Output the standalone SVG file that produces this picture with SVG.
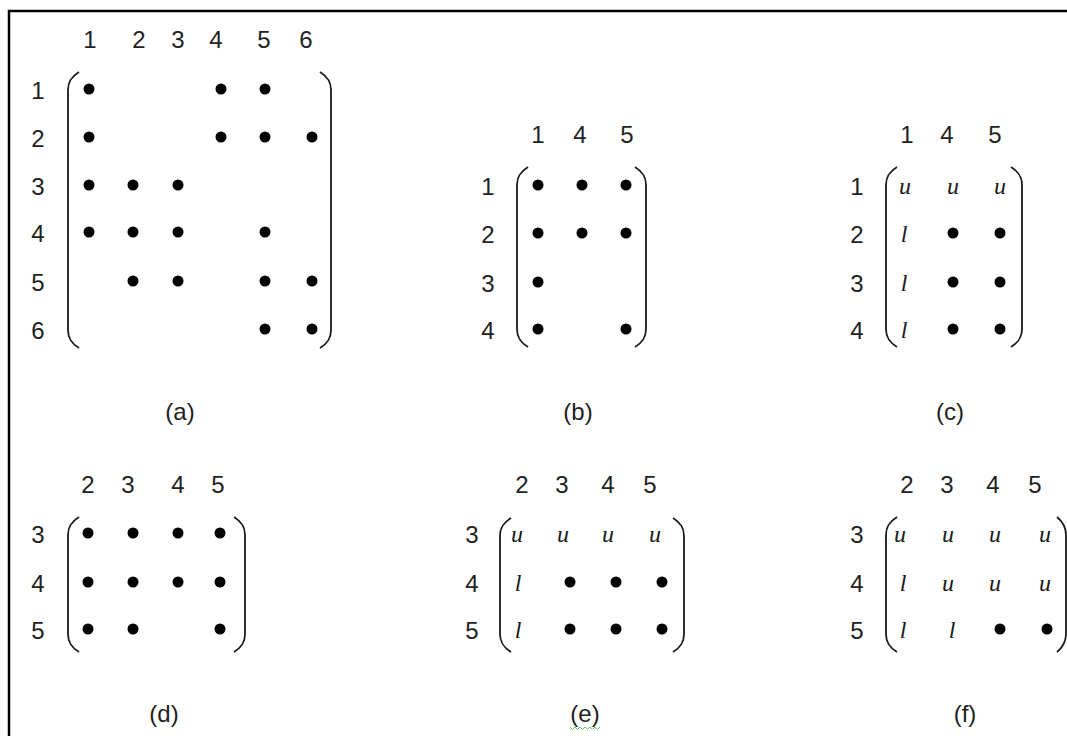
<svg xmlns="http://www.w3.org/2000/svg" width="1067" height="736" viewBox="0 0 1067 736">
<style>
.n{font-family:"Liberation Sans","DejaVu Sans",sans-serif;font-size:24px;fill:#222;text-anchor:middle}
.i{font-family:"Liberation Serif",serif;font-style:italic;font-size:24px;fill:#1a1a1a;text-anchor:middle}
.p{fill:none;stroke:#1a1a1a;stroke-width:1.8}
.d{fill:#000}
</style>
<defs><circle id="dt" r="5.5" class="d"/></defs>
<rect x="0" y="0" width="1067" height="736" fill="#fff"/>
<path d="M9 736 V11 H1067" fill="none" stroke="#000" stroke-width="2.5"/>

<g id="panel-a">
<g class="n"><text x="90" y="48">1</text><text x="139" y="48">2</text><text x="178" y="48">3</text><text x="216" y="48">4</text><text x="264" y="48">5</text><text x="306" y="48">6</text>
<text x="38" y="99">1</text><text x="38" y="147">2</text><text x="38" y="195">3</text><text x="38" y="242">4</text><text x="38" y="291">5</text><text x="38" y="339">6</text>
<text x="180" y="420">(a)</text></g>
<path class="p" d="M79 72 C71 77 68 82 68 90 V330 C68 338 71 343 79 348"/>
<path class="p" d="M320 72 C328 77 331 82 331 90 V330 C331 338 328 343 320 348"/>
<use href="#dt" x="89" y="89"/><use href="#dt" x="221" y="89"/><use href="#dt" x="265" y="89"/>
<use href="#dt" x="89" y="137"/><use href="#dt" x="221" y="137"/><use href="#dt" x="265" y="137"/><use href="#dt" x="312" y="137"/>
<use href="#dt" x="89" y="185"/><use href="#dt" x="133" y="185"/><use href="#dt" x="178" y="185"/>
<use href="#dt" x="89" y="232"/><use href="#dt" x="133" y="232"/><use href="#dt" x="178" y="232"/><use href="#dt" x="265" y="232"/>
<use href="#dt" x="133" y="281"/><use href="#dt" x="178" y="281"/><use href="#dt" x="265" y="281"/><use href="#dt" x="312" y="281"/>
<use href="#dt" x="265" y="329"/><use href="#dt" x="312" y="329"/>
</g>

<g id="panel-b">
<g class="n"><text x="538" y="143">1</text><text x="580" y="143">4</text><text x="627" y="143">5</text>
<text x="488" y="195">1</text><text x="488" y="243">2</text><text x="488" y="292">3</text><text x="488" y="339">4</text>
<text x="578" y="420">(b)</text></g>
<path class="p" d="M528 167 C520 172 517 177 517 185 V329 C517 337 520 342 528 347"/>
<path class="p" d="M635 167 C643 172 646 177 646 185 V329 C646 337 643 342 635 347"/>
<use href="#dt" x="538" y="185"/><use href="#dt" x="582" y="185"/><use href="#dt" x="626" y="185"/>
<use href="#dt" x="538" y="233"/><use href="#dt" x="582" y="233"/><use href="#dt" x="626" y="233"/>
<use href="#dt" x="538" y="282"/>
<use href="#dt" x="538" y="329"/><use href="#dt" x="626" y="329"/>
</g>

<g id="panel-c">
<g class="n"><text x="907" y="143">1</text><text x="947" y="143">4</text><text x="995" y="143">5</text>
<text x="857" y="195">1</text><text x="857" y="243">2</text><text x="857" y="292">3</text><text x="857" y="339">4</text>
<text x="950" y="420">(c)</text></g>
<path class="p" d="M897 167 C889 172 886 177 886 185 V329 C886 337 889 342 897 347"/>
<path class="p" d="M1011 167 C1019 172 1022 177 1022 185 V329 C1022 337 1019 342 1011 347"/>
<g class="i"><text x="905" y="194">u</text><text x="953" y="194">u</text><text x="1000" y="194">u</text>
<text x="904" y="242">l</text><text x="904" y="291">l</text><text x="904" y="338">l</text></g>
<use href="#dt" x="953" y="233"/><use href="#dt" x="1000" y="233"/>
<use href="#dt" x="953" y="282"/><use href="#dt" x="1000" y="282"/>
<use href="#dt" x="953" y="329"/><use href="#dt" x="1000" y="329"/>
</g>

<g id="panel-d">
<g class="n"><text x="88" y="493">2</text><text x="128" y="493">3</text><text x="178" y="493">4</text><text x="218" y="493">5</text>
<text x="38" y="543">3</text><text x="38" y="592">4</text><text x="38" y="639">5</text>
<text x="164" y="722">(d)</text></g>
<path class="p" d="M79 517 C71 522 68 527 68 535 V634 C68 642 71 647 79 652"/>
<path class="p" d="M234 517 C242 522 245 527 245 535 V634 C245 642 242 647 234 652"/>
<use href="#dt" x="88" y="533"/><use href="#dt" x="133" y="533"/><use href="#dt" x="178" y="533"/><use href="#dt" x="220" y="533"/>
<use href="#dt" x="88" y="582"/><use href="#dt" x="133" y="582"/><use href="#dt" x="178" y="582"/><use href="#dt" x="220" y="582"/>
<use href="#dt" x="88" y="629"/><use href="#dt" x="133" y="629"/><use href="#dt" x="220" y="629"/>
</g>

<g id="panel-e">
<g class="n"><text x="522" y="493">2</text><text x="562" y="493">3</text><text x="608" y="493">4</text><text x="650" y="493">5</text>
<text x="472" y="543">3</text><text x="472" y="592">4</text><text x="472" y="639">5</text>
<text x="585" y="722">(e)</text></g>
<path d="M570 727 l2.5 2.5 l2.5 -2.5 l2.5 2.5 l2.5 -2.5 l2.5 2.5 l2.5 -2.5 l2.5 2.5 l2.5 -2.5 l2.5 2.5 l2.5 -2.5 l2.5 2.5 l2.5 -2.5" fill="none" stroke="#6c6" stroke-width="1"/>
<path class="p" d="M511 518 C503 523 500 528 500 536 V634 C500 642 503 647 511 652"/>
<path class="p" d="M673 518 C681 523 684 528 684 536 V634 C684 642 681 647 673 652"/>
<g class="i"><text x="517" y="542">u</text><text x="563" y="542">u</text><text x="608" y="542">u</text><text x="655" y="542">u</text>
<text x="518" y="591">l</text><text x="518" y="638">l</text></g>
<use href="#dt" x="570" y="582"/><use href="#dt" x="616" y="582"/><use href="#dt" x="662" y="582"/>
<use href="#dt" x="570" y="629"/><use href="#dt" x="616" y="629"/><use href="#dt" x="662" y="629"/>
</g>

<g id="panel-f">
<g class="n"><text x="907" y="493">2</text><text x="947" y="493">3</text><text x="993" y="493">4</text><text x="1035" y="493">5</text>
<text x="857" y="543">3</text><text x="857" y="592">4</text><text x="857" y="639">5</text>
<text x="965" y="722">(f)</text></g>
<path class="p" d="M897 517 C889 522 886 527 886 535 V634 C886 642 889 647 897 652"/>
<path class="p" d="M1057 517 C1063 522 1066 527 1066 535 V634 C1066 642 1063 647 1057 652"/>
<g class="i"><text x="900" y="542">u</text><text x="948" y="542">u</text><text x="995" y="542">u</text><text x="1045" y="542">u</text>
<text x="903" y="591">l</text><text x="948" y="591">u</text><text x="995" y="591">u</text><text x="1045" y="591">u</text>
<text x="903" y="638">l</text><text x="952" y="638">l</text></g>
<use href="#dt" x="1000" y="629"/><use href="#dt" x="1047" y="629"/>
</g>
</svg>
